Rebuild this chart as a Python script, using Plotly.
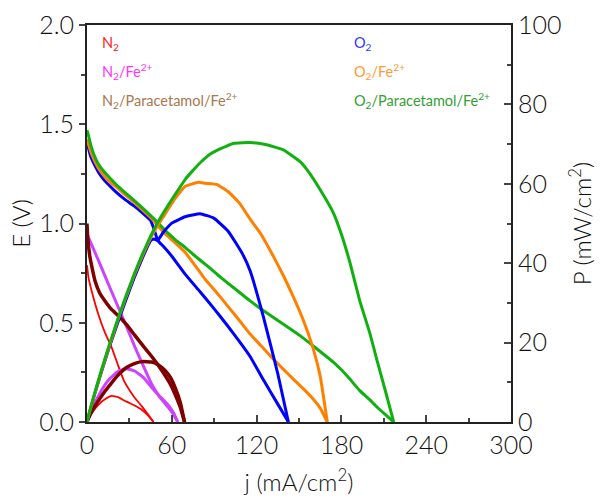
import plotly.graph_objects as go

# ---- data ----
j_N2 = [0, 1, 3.3, 8, 12.7, 17.5, 22, 26, 29.2, 34, 38.7, 43, 47]
E_N2 = [0.79, 0.73, 0.66, 0.543, 0.45, 0.375, 0.285, 0.21, 0.17, 0.12, 0.08, 0.04, 0]
P_N2 = [0, 0.73, 2.18, 4.34, 5.72, 6.56, 6.27, 5.46, 4.96, 4.08, 3.10, 1.72, 0]

j_N2Fe = [0, 1, 5, 10.4, 16, 22.2, 28, 34, 40, 45.8, 51.5, 57.5, 61, 64.2]
E_N2Fe = [0.95, 0.93, 0.865, 0.775, 0.68, 0.577, 0.48, 0.376, 0.28, 0.19, 0.125, 0.074, 0.04, 0]
P_N2Fe = [0, 0.93, 4.33, 8.06, 10.88, 12.81, 13.44, 12.78, 11.2, 8.70, 6.44, 4.26, 2.44, 0]

j_N2PF = [0, 0.5, 2.1, 5.7, 9, 12.7, 17, 22.2, 28, 34, 39, 45.8, 50, 55.2, 59, 62.3, 66, 69]
E_N2PF = [1.0, 0.93, 0.83, 0.71, 0.65, 0.61, 0.57, 0.535, 0.49, 0.435, 0.39, 0.33, 0.29, 0.235, 0.19, 0.14, 0.075, 0]
P_N2PF = [0, 0.47, 1.74, 4.05, 5.85, 7.75, 9.69, 11.88, 13.72, 14.79, 15.21, 15.11, 14.5, 12.97, 11.21, 8.72, 4.95, 0]

j_O2 = [0, 1, 2.5, 5, 8, 12, 16, 21, 27, 33, 39, 45, 47.5, 50, 54, 60, 69.4, 80, 90, 100, 110, 115.4, 125, 135, 142.5]
E_O2 = [1.41, 1.38, 1.34, 1.30, 1.26, 1.22, 1.19, 1.155, 1.12, 1.09, 1.055, 1.015, 0.97, 0.915, 0.885, 0.835, 0.745, 0.656, 0.57, 0.48, 0.385, 0.33, 0.21, 0.09, 0]
P_O2 = [0, 1.38, 3.35, 6.5, 10.08, 14.64, 19.04, 24.26, 30.24, 35.97, 41.15, 45.68, 46.08, 45.75, 47.79, 50.1, 51.7, 52.48, 51.3, 48.0, 42.35, 38.08, 26.25, 12.15, 0]

j_O2Fe = [0, 1, 2.5, 5, 8, 12, 16, 21.5, 27, 33.5, 39, 45, 50, 55, 62, 69.4, 78.8, 83.5, 92, 100, 108, 115.4, 123, 131.8, 139, 146, 153, 160, 165, 170]
E_O2Fe = [1.425, 1.40, 1.365, 1.32, 1.28, 1.24, 1.21, 1.18, 1.145, 1.105, 1.07, 1.03, 0.99, 0.95, 0.905, 0.855, 0.766, 0.72, 0.65, 0.58, 0.51, 0.443, 0.385, 0.317, 0.265, 0.216, 0.168, 0.116, 0.07, 0]
P_O2Fe = [0, 1.40, 3.41, 6.6, 10.24, 14.88, 19.36, 25.37, 30.92, 37.02, 41.73, 46.35, 49.5, 52.25, 56.11, 59.34, 60.36, 60.12, 59.8, 58.0, 55.08, 51.12, 47.36, 41.78, 36.84, 31.54, 25.7, 18.56, 11.55, 0]

j_O2PF = [0, 1, 2.5, 5, 8, 12, 16, 21.5, 27, 33.5, 39, 45, 50, 57.5, 63, 69.4, 75, 81, 87, 93, 104, 115.4, 127, 139, 151, 157.8, 165, 174.3, 180, 186, 193, 200, 205, 211, 217]
E_O2PF = [1.47, 1.445, 1.40, 1.345, 1.30, 1.262, 1.23, 1.19, 1.155, 1.115, 1.08, 1.04, 1.005, 0.95, 0.915, 0.88, 0.845, 0.81, 0.775, 0.738, 0.675, 0.61, 0.55, 0.493, 0.434, 0.396, 0.355, 0.302, 0.263, 0.216, 0.158, 0.1125, 0.077, 0.038, 0]
P_O2PF = [0, 1.445, 3.5, 6.73, 10.4, 15.14, 19.68, 25.59, 31.19, 37.35, 42.12, 46.8, 50.25, 54.63, 57.65, 61.07, 63.38, 65.61, 67.43, 68.63, 70.2, 70.39, 69.85, 68.53, 65.5, 62.5, 58.5, 52.7, 47.3, 40.2, 30.5, 22.5, 15.8, 8.0, 0]

x_ticks = [0, 60, 120, 180, 240, 300]
E_ticks = [0.0, 0.5, 1.0, 1.5, 2.0]
P_ticks = [0, 20, 40, 60, 80, 100]

series = [
    (j_N2, E_N2, P_N2, "#FF0000", 1.8),
    (j_N2Fe, E_N2Fe, P_N2Fe, "#CC44FF", 3.0),
    (j_N2PF, E_N2PF, P_N2PF, "#800000", 3.5),
    (j_O2, E_O2, P_O2, "#0000FF", 3.0),
    (j_O2Fe, E_O2Fe, P_O2Fe, "#FF8000", 3.0),
    (j_O2PF, E_O2PF, P_O2PF, "#11B011", 3.0),
]

fig = go.Figure()
for jj, ee, pp, col, w in series:
    fig.add_trace(go.Scatter(x=jj, y=ee, mode="lines", line=dict(color=col, width=w, shape="spline", smoothing=0.35),
                             yaxis="y", showlegend=False))
    fig.add_trace(go.Scatter(x=jj, y=pp, mode="lines", line=dict(color=col, width=w, shape="spline", smoothing=0.35),
                             yaxis="y2", showlegend=False))

FONT = "Lato"
tickfont = dict(family=FONT, size=25, color="#111111", weight=300)
titlefont = dict(family=FONT, size=24, color="#111111", weight=300)

fig.update_layout(
    width=604, height=501,
    margin=dict(l=87, r=93, t=25, b=79),
    plot_bgcolor="white", paper_bgcolor="white",
    xaxis=dict(range=[0, 300], tickvals=x_ticks, ticks="inside", ticklen=7, tickwidth=1.5,
               minor=dict(dtick=30, ticks="inside", ticklen=4, tickwidth=1.5),
               showline=True, linecolor="#222222", linewidth=2, mirror=True,
               showgrid=False, zeroline=False, tickfont=tickfont, automargin=False,
               title=dict(text="j (mA/cm<sup>2</sup>)", font=titlefont, standoff=16)),
    yaxis=dict(range=[0, 2.0], tickvals=E_ticks, tickformat=".1f", ticks="outside", ticklen=6, tickwidth=1.5,
               minor=dict(dtick=0.25, ticks="outside", ticklen=4, tickwidth=1.5),
               showline=True, linecolor="#222222", linewidth=2, automargin=False,
               showgrid=False, zeroline=False, tickfont=tickfont,
               title=dict(text="E (V)", font=titlefont, standoff=2)),
    yaxis2=dict(range=[0, 100], tickvals=P_ticks, overlaying="y", side="right", ticks="inside", ticklen=7, tickwidth=1.5,
                minor=dict(dtick=10, ticks="inside", ticklen=4, tickwidth=1.5),
                showline=True, linecolor="#222222", linewidth=2, automargin=False,
                showgrid=False, zeroline=False, tickfont=tickfont,
                title=dict(text="P (mW/cm<sup>2</sup>)", font=titlefont, standoff=14)),
)

labels = [
    ("N<sub>2</sub>", "#FF2020", 0.031, 0.953),
    ("N<sub>2</sub>/Fe<sup>2+</sup>", "#FF33FF", 0.031, 0.883),
    ("N<sub>2</sub>/Paracetamol/Fe<sup>2+</sup>", "#A8784E", 0.031, 0.81),
    ("O<sub>2</sub>", "#3333FF", 0.625, 0.953),
    ("O<sub>2</sub>/Fe<sup>2+</sup>", "#FF9933", 0.625, 0.883),
    ("O<sub>2</sub>/Paracetamol/Fe<sup>2+</sup>", "#33A033", 0.625, 0.81),
]
for txt, col, xx, yy in labels:
    fig.add_annotation(text=txt, x=xx, y=yy, xref="paper", yref="paper", xanchor="left", yanchor="middle",
                       showarrow=False, font=dict(family=FONT, size=14.5, color=col))

fig.write_html("out.html")
